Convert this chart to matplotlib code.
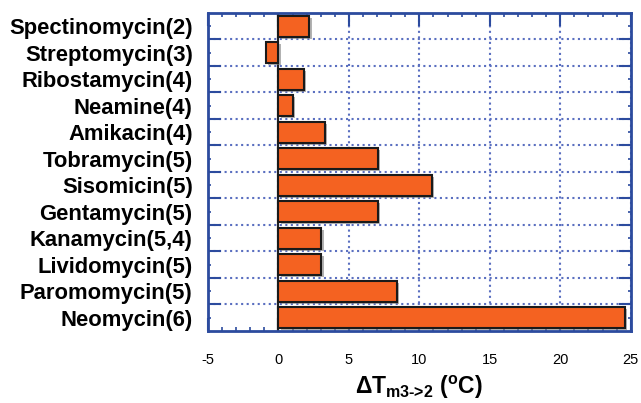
import matplotlib
matplotlib.use('Agg')
import matplotlib.pyplot as plt
import matplotlib.patheffects as pe
from matplotlib.ticker import MultipleLocator, FixedLocator

plt.rcParams['font.family'] = ['Liberation Sans', 'DejaVu Sans']
plt.rcParams['mathtext.fontset'] = 'custom'
plt.rcParams['mathtext.rm'] = 'Liberation Sans:bold'
plt.rcParams['mathtext.it'] = 'Liberation Sans:bold'
plt.rcParams['mathtext.bf'] = 'Liberation Sans:bold'

# --- data (top to bottom as shown) ---
drugs = ['Spectinomycin(2)', 'Streptomycin(3)', 'Ribostamycin(4)', 'Neamine(4)',
         'Amikacin(4)', 'Tobramycin(5)', 'Sisomicin(5)', 'Gentamycin(5)',
         'Kanamycin(5,4)', 'Lividomycin(5)', 'Paromomycin(5)', 'Neomycin(6)']
delta_tm = [2.2, -0.9, 1.8, 1.05, 3.3, 7.05, 10.9, 7.05, 3.05, 3.05, 8.4, 24.6]
xticks = [-5, 0, 5, 10, 15, 20, 25]

frame_blue = '#2c4b9e'
grid_blue = '#5a6fc0'
bar_color = '#f46221'

fig = plt.figure(figsize=(6.41, 4.03), dpi=100)
ax = fig.add_axes([0.3245, 0.179, 0.6595, 0.789])

ypos = list(range(len(drugs)))
bars = ax.barh(ypos, delta_tm, height=0.8, color=bar_color, edgecolor='#1a1a1a',
               linewidth=1.5, zorder=3)
for b in bars:
    b.set_path_effects([pe.SimplePatchShadow(offset=(1.5, -1.5), shadow_rgbFace='#808080',
                                             alpha=0.6), pe.Normal()])
ax.axvline(0, color='#222222', lw=1.5, zorder=2)

ax.set_xlim(-5, 25)
ax.set_ylim(len(drugs) - 0.5, -0.5)

ax.xaxis.set_major_locator(FixedLocator(xticks))
ax.xaxis.set_minor_locator(MultipleLocator(1))
ax.set_yticks(ypos)
ax.set_yticklabels(drugs, fontsize=15.8, fontweight='bold')
ax.yaxis.set_minor_locator(FixedLocator([i + 0.5 for i in range(len(drugs) - 1)]))
ax.set_xticklabels([str(t) for t in xticks], fontsize=10.5)

ax.tick_params(axis='x', which='major', direction='in', length=9.5, width=1.5,
               color=frame_blue, top=True, bottom=True, pad=16)
ax.tick_params(axis='x', which='minor', direction='in', length=3, width=1.2,
               color=frame_blue, top=True, bottom=True)
ax.tick_params(axis='y', which='major', direction='in', length=2.5, width=1.2,
               color=frame_blue, left=True, right=True, pad=11)
ax.tick_params(axis='y', which='minor', direction='in', length=9, width=1.5,
               color=frame_blue, left=True, right=True)

for sp in ax.spines.values():
    sp.set_color(frame_blue)
    sp.set_linewidth(2)

ax.grid(True, axis='x', which='major', linestyle=':', color=grid_blue, lw=1.5, zorder=1)
ax.grid(True, axis='y', which='minor', linestyle=':', color=grid_blue, lw=1.5, zorder=1)
ax.set_axisbelow(True)

ax.set_xlabel(r'$\Delta T_{\text{m3->2}}\ (^{o}C)$', fontsize=16.5, labelpad=5)

fig.savefig('out.png', dpi=100)
